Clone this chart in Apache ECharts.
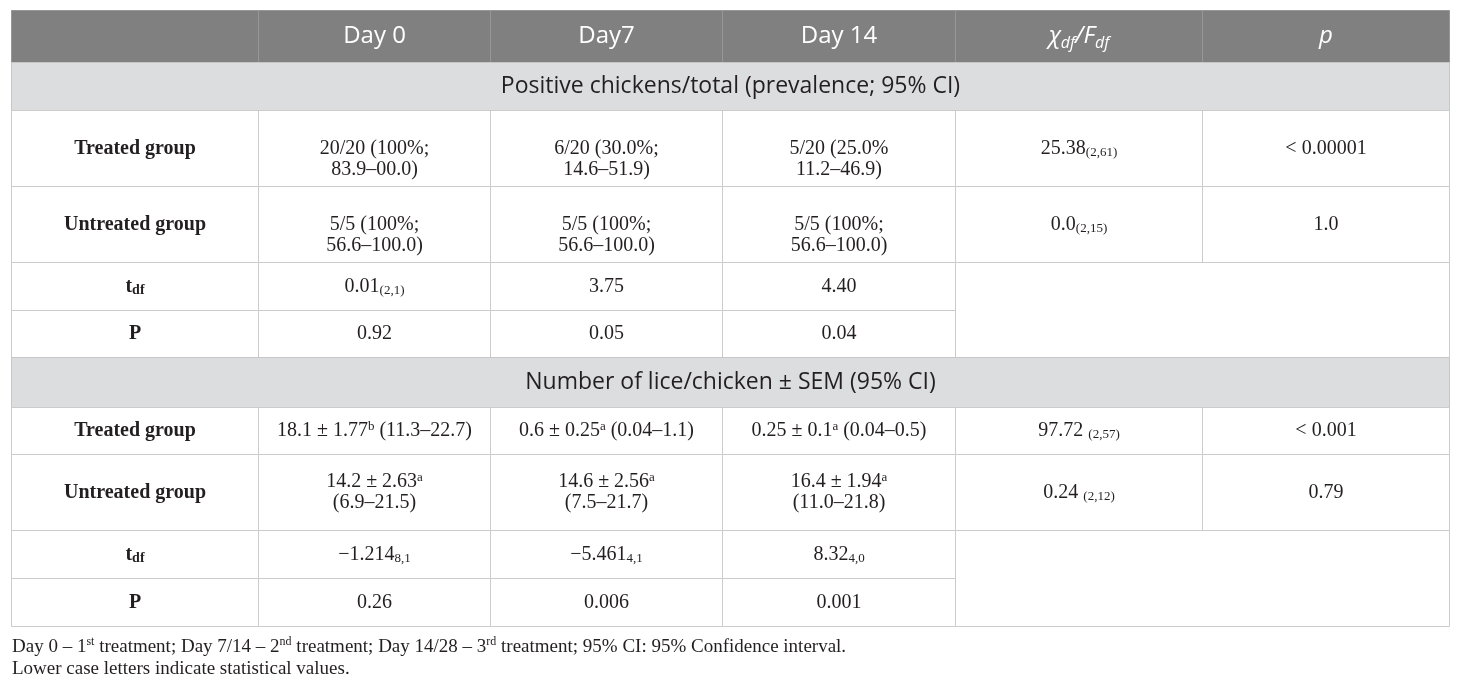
<!DOCTYPE html>
<html>
<head>
<meta charset="utf-8">
<script src="https://cdn.jsdelivr.net/npm/echarts@6/dist/echarts.min.js"></script>
<style>
  html, body { margin: 0; padding: 0; background: #fff; }
  #chart { width: 1460px; height: 686px; }
</style>
</head>
<body>
<div id="chart"></div>
<script>
/*
 * Tabella prevalenza / numero pidocchi, disegnata come serie custom.
 * Markup nei testi: _{..} = pedice, ^{..} = apice.
 */

// intestazioni e titoli di sezione
const columns = ['', 'Day 0', 'Day7', 'Day 14', 'χ_{df}/F_{df}', 'p'];
const sections = [
  'Positive chickens/total (prevalence; 95% CI)',
  'Number of lice/chicken ± SEM (95% CI)'
];
const rowLabels = ['Treated group', 'Untreated group', 't_{df}', 'P'];

// sezione 1: prevalenza
const prevDay0 = ['20/20 (100%;\n83.9–00.0)', '5/5 (100%;\n56.6–100.0)', '0.01_{(2,1)}', '0.92'];
const prevDay7 = ['6/20 (30.0%;\n14.6–51.9)', '5/5 (100%;\n56.6–100.0)', '3.75', '0.05'];
const prevDay14 = ['5/20 (25.0%\n11.2–46.9)', '5/5 (100%;\n56.6–100.0)', '4.40', '0.04'];
const prevStat = ['25.38_{(2,61)}', '0.0_{(2,15)}'];
const prevP = ['< 0.00001', '1.0'];

// sezione 2: numero di pidocchi
const liceDay0 = ['18.1 ± 1.77^{b} (11.3–22.7)', '14.2 ± 2.63^{a}\n(6.9–21.5)', '−1.214_{8,1}', '0.26'];
const liceDay7 = ['0.6 ± 0.25^{a} (0.04–1.1)', '14.6 ± 2.56^{a}\n(7.5–21.7)', '−5.461_{4,1}', '0.006'];
const liceDay14 = ['0.25 ± 0.1^{a} (0.04–0.5)', '16.4 ± 1.94^{a}\n(11.0–21.8)', '8.32_{4,0}', '0.001'];
const liceStat = ['97.72 _{(2,57)}', '0.24 _{(2,12)}'];
const liceP = ['< 0.001', '0.79'];

// layout della griglia (larghezze colonne / altezze righe in px)
const COL_W = [247, 232, 232, 233, 247, 247];
const ROW_H = [52, 48, 76, 76, 48, 47, 50, 47, 76, 48, 48];
// righe in cui il testo parte dall'alto (prima riga allineata alle etichette)
const TOP_ALIGNED_ROWS = [2, 3];

const cum = arr => arr.reduce((acc, v) => { acc.push(acc[acc.length - 1] + v); return acc; }, [0]);
const xEdge = cum(COL_W);
const yEdge = cum(ROW_H);

const cells = [];
function addCell(c0, c1, r0, r1, text, kind) {
  cells.push({ c0, c1, r0, r1, text, kind });
}

columns.forEach((t, c) => addCell(c, c + 1, 0, 1, t, c >= 4 ? 'headI' : 'head'));

function addBlock(r, title, d0, d7, d14, stat, p) {
  addCell(0, 6, r, r + 1, title, 'sect');
  rowLabels.forEach((lab, i) => {
    const row = r + 1 + i;
    addCell(0, 1, row, row + 1, lab, 'label');
    addCell(1, 2, row, row + 1, d0[i], 'body');
    addCell(2, 3, row, row + 1, d7[i], 'body');
    addCell(3, 4, row, row + 1, d14[i], 'body');
    if (i < 2) {
      addCell(4, 5, row, row + 1, stat[i], 'body');
      addCell(5, 6, row, row + 1, p[i], 'body');
    }
  });
  addCell(4, 6, r + 3, r + 5, '', 'body'); // cella vuota unita
}
addBlock(1, sections[0], prevDay0, prevDay7, prevDay14, prevStat, prevP);
addBlock(6, sections[1], liceDay0, liceDay7, liceDay14, liceStat, liceP);

const SERIF = '"Liberation Serif", "Times New Roman", serif';
const SANS = '"Open Sans", "Noto Sans", sans-serif';
const INK = '#231f20';
const BODY_LH = 21;

const RICH = {
  body: { fontFamily: SERIF, fontSize: 20, fill: INK, lineHeight: BODY_LH },
  bodySub: { fontFamily: SERIF, fontSize: 13, fill: INK, lineHeight: 10, verticalAlign: 'bottom' },
  bodySup: { fontFamily: SERIF, fontSize: 13, fill: INK, lineHeight: 10, verticalAlign: 'top' },
  label: { fontFamily: SERIF, fontSize: 20, fontWeight: 'bold', fill: INK, lineHeight: BODY_LH },
  labelSub: { fontFamily: SERIF, fontSize: 14, fontWeight: 'bold', fill: INK, lineHeight: 10, verticalAlign: 'bottom' },
  labelSup: { fontFamily: SERIF, fontSize: 14, fontWeight: 'bold', fill: INK, lineHeight: 10, verticalAlign: 'top' },
  head: { fontFamily: SANS, fontSize: 24, fill: '#fff', lineHeight: 30 },
  headSub: { fontFamily: SANS, fontSize: 15, fill: '#fff', lineHeight: 12, verticalAlign: 'bottom' },
  headSup: { fontFamily: SANS, fontSize: 15, fill: '#fff', lineHeight: 12, verticalAlign: 'top' },
  headI: { fontFamily: SANS, fontSize: 24, fontStyle: 'italic', fill: '#fff', lineHeight: 30 },
  headISub: { fontFamily: SANS, fontSize: 16, fontStyle: 'italic', fill: '#fff', lineHeight: 12, verticalAlign: 'bottom' },
  headISup: { fontFamily: SANS, fontSize: 16, fontStyle: 'italic', fill: '#fff', lineHeight: 12, verticalAlign: 'top' },
  sect: { fontFamily: SANS, fontSize: 23, fill: INK, lineHeight: 30 },
  sectSub: { fontFamily: SANS, fontSize: 15, fill: INK, lineHeight: 12, verticalAlign: 'bottom' },
  sectSup: { fontFamily: SANS, fontSize: 15, fill: INK, lineHeight: 12, verticalAlign: 'top' }
};

const KIND = {
  head: { fill: '#808080', stroke: '#979797', base: 'head' },
  headI: { fill: '#808080', stroke: '#979797', base: 'headI' },
  sect: { fill: '#dcdddf', stroke: '#c6c6c6', base: 'sect' },
  label: { fill: '#fff', stroke: '#cbcbcb', base: 'label' },
  body: { fill: '#fff', stroke: '#cbcbcb', base: 'body' }
};

// converte il markup _{..} / ^{..} in rich text di ECharts
function toRich(txt, base) {
  return txt.split('\n').map(line => {
    let out = '';
    const re = /([_^])\{([^}]*)\}/g;
    let last = 0, m;
    while ((m = re.exec(line))) {
      if (m.index > last) out += '{' + base + '|' + line.slice(last, m.index) + '}';
      out += '{' + base + (m[1] === '_' ? 'Sub' : 'Sup') + '|' + m[2] + '}';
      last = re.lastIndex;
    }
    if (last < line.length) out += '{' + base + '|' + line.slice(last) + '}';
    return out;
  }).join('\n');
}

function renderCell(params, api) {
  const cell = cells[params.dataIndex];
  const st = KIND[cell.kind];
  const p0 = api.coord([api.value(0), api.value(2)]);
  const p1 = api.coord([api.value(1), api.value(3)]);
  const x = Math.round(p0[0]) + 0.5;
  const y = Math.round(p0[1]) + 0.5;
  const w = Math.round(p1[0]) - Math.round(p0[0]);
  const h = Math.round(p1[1]) - Math.round(p0[1]);
  const topAligned = TOP_ALIGNED_ROWS.indexOf(cell.r0) >= 0 && cell.r1 === cell.r0 + 1;
  return {
    type: 'group',
    children: [
      { type: 'rect', shape: { x, y, width: w, height: h },
        style: { fill: st.fill, stroke: st.stroke, lineWidth: 1 } },
      { type: 'text', x: x + w / 2,
        y: topAligned ? y + h / 2 - BODY_LH / 2 : y + h / 2,
        style: {
          text: toRich(cell.text, st.base), rich: RICH, align: 'center',
          verticalAlign: topAligned ? 'top' : 'middle'
        } }
    ]
  };
}

const footRich = {
  f: { fontFamily: SERIF, fontSize: 19, fontWeight: 'normal', color: INK, lineHeight: 22 },
  fs: { fontFamily: SERIF, fontSize: 12, fontWeight: 'normal', color: INK, lineHeight: 10, verticalAlign: 'top' }
};
const footText =
  '{f|Day 0 – 1}{fs|st}{f| treatment; Day 7/14 – 2}{fs|nd}{f| treatment; Day 14/28 – 3}{fs|rd}' +
  '{f| treatment; 95% CI: 95% Confidence interval.}\n{f|Lower case letters indicate statistical values.}';

const chart = echarts.init(document.getElementById('chart'));
chart.setOption({
  animation: false,
  title: {
    text: footText, left: 7, top: 631,
    textStyle: { fontWeight: 'normal', rich: footRich }
  },
  grid: { left: 11, top: 10, width: xEdge[6], height: yEdge[11] },
  xAxis: { type: 'value', min: 0, max: xEdge[6], show: false },
  yAxis: { type: 'value', min: 0, max: yEdge[11], inverse: true, show: false },
  series: [{
    type: 'custom',
    renderItem: renderCell,
    encode: { x: [0, 1], y: [2, 3] },
    data: cells.map(c => [xEdge[c.c0], xEdge[c.c1], yEdge[c.r0], yEdge[c.r1]])
  }]
});

window.addEventListener('resize', () => chart.resize());
</script>
</body>
</html>
